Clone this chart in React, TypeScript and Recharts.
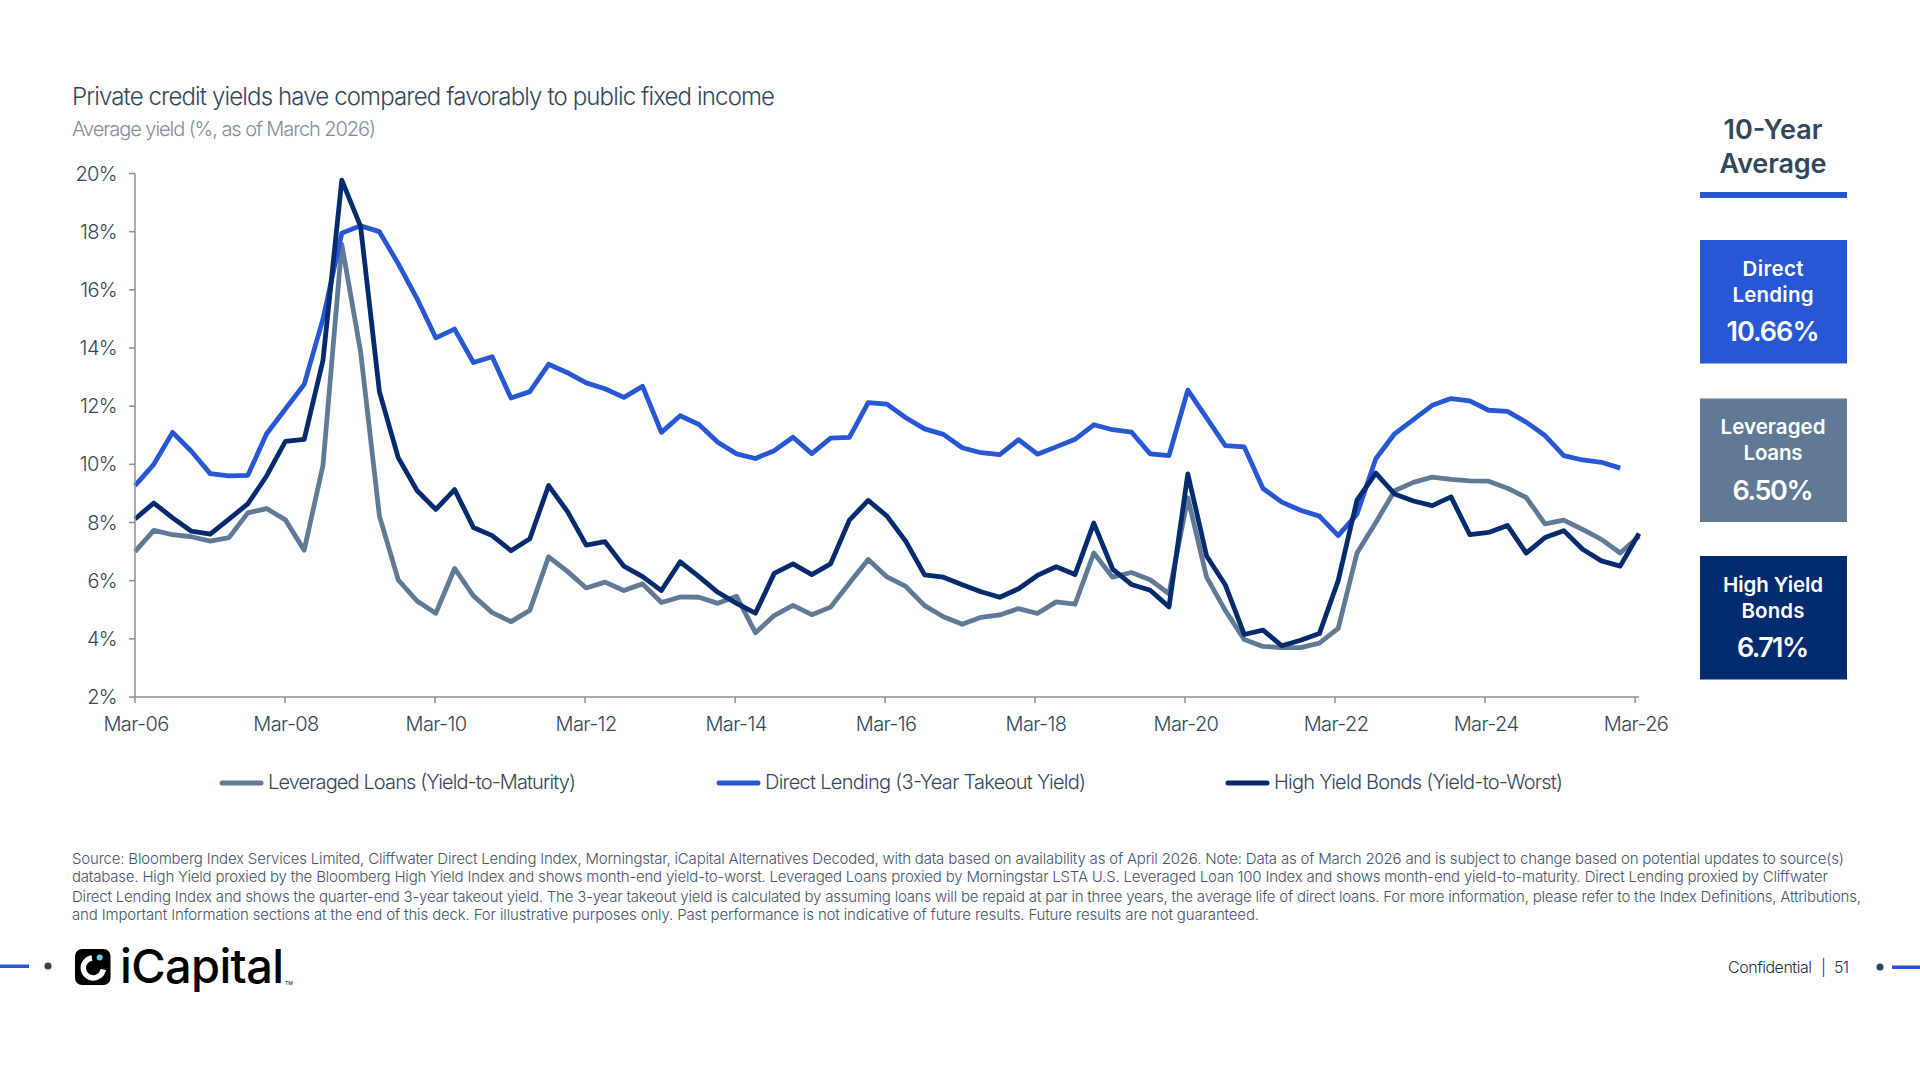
import React from "react";
import { LineChart, Line, XAxis, YAxis, Legend } from "recharts";

const tickYears = ["Mar-06","Mar-08","Mar-10","Mar-12","Mar-14","Mar-16","Mar-18","Mar-20","Mar-22","Mar-24","Mar-26"];
const tickPositions = [0,7.98,15.96,23.94,31.92,39.9,47.87,55.85,63.83,71.81,79.79];
const yTicks = [2,4,6,8,10,12,14,16,18,20];

const directLending = [9.27,10.0,11.1,10.45,9.68,9.6,9.62,11.05,11.9,12.75,15.0,17.95,18.2,18.0,16.9,15.7,14.35,14.65,13.5,13.7,12.28,12.5,13.44,13.15,12.8,12.6,12.3,12.68,11.1,11.67,11.37,10.76,10.36,10.2,10.47,10.93,10.37,10.9,10.93,12.12,12.07,11.6,11.22,11.03,10.57,10.4,10.33,10.85,10.35,10.6,10.86,11.36,11.19,11.11,10.36,10.3,12.55,11.6,10.64,10.6,9.17,8.7,8.42,8.22,7.55,8.29,10.19,11.05,11.54,12.03,12.26,12.18,11.86,11.82,11.45,10.99,10.3,10.15,10.07,9.87,null];
const leveragedLoans = [7.0,7.73,7.58,7.51,7.36,7.48,8.33,8.48,8.09,7.05,9.97,17.56,13.87,8.23,6.03,5.3,4.88,6.42,5.48,4.9,4.59,4.98,6.82,6.32,5.75,5.95,5.66,5.89,5.25,5.44,5.43,5.22,5.46,4.21,4.8,5.15,4.83,5.09,5.92,6.73,6.13,5.8,5.14,4.76,4.5,4.74,4.82,5.04,4.87,5.27,5.19,6.95,6.12,6.28,6.03,5.55,8.85,6.12,4.97,3.98,3.74,3.7,3.7,3.85,4.36,6.95,8.0,9.09,9.38,9.56,9.48,9.43,9.42,9.18,8.86,7.95,8.08,7.76,7.42,6.95,7.53];
const highYield = [8.12,8.67,8.16,7.7,7.6,8.12,8.64,9.6,10.79,10.86,13.58,19.77,18.18,12.5,10.23,9.1,8.45,9.13,7.83,7.55,7.03,7.44,9.27,8.38,7.22,7.34,6.5,6.14,5.66,6.65,6.14,5.6,5.22,4.88,6.25,6.58,6.21,6.58,8.08,8.76,8.22,7.35,6.2,6.12,5.86,5.62,5.43,5.72,6.18,6.48,6.21,7.98,6.4,5.87,5.67,5.1,9.67,6.85,5.85,4.15,4.3,3.76,3.95,4.18,6.0,8.77,9.7,8.98,8.74,8.58,8.88,7.58,7.66,7.9,6.95,7.48,7.72,7.08,6.68,6.5,7.62];

const seriesNames = ["Leveraged Loans (Yield-to-Maturity)","Direct Lending (3-Year Takeout Yield)","High Yield Bonds (Yield-to-Worst)"];
const sourceLines = [
  "Source: Bloomberg Index Services Limited, Cliffwater Direct Lending Index, Morningstar, iCapital Alternatives Decoded, with data based on availability as of April 2026. Note: Data as of March 2026 and is subject to change based on potential updates to source(s)",
  "database. High Yield proxied by the Bloomberg High Yield Index and shows month-end yield-to-worst. Leveraged Loans proxied by Morningstar LSTA U.S. Leveraged Loan 100 Index and shows month-end yield-to-maturity. Direct Lending proxied by Cliffwater",
  "Direct Lending Index and shows the quarter-end 3-year takeout yield. The 3-year takeout yield is calculated by assuming loans will be repaid at par in three years, the average life of direct loans. For more information, please refer to the Index Definitions, Attributions,",
  "and Important Information sections at the end of this deck. For illustrative purposes only. Past performance is not indicative of future results. Future results are not guaranteed.",
];

const BLUE = "#2857D4";
const SLATE = "#607A95";
const NAVY = "#032B6E";
const INK = "#33475A";
const FONT = "Inter, sans-serif";

const rows = directLending.map((_, i) => ({
  i,
  directLending: directLending[i],
  leveragedLoans: leveragedLoans[i],
  highYield: highYield[i],
}));

function T({ x, y, w, size, fill = INK, weight = 300, anchor = "start", children }: any) {
  return (
    <text x={x} y={y} fontFamily={FONT} fontSize={size} fontWeight={weight} fill={fill} textAnchor={anchor}
      textLength={w} lengthAdjust="spacing">{children}</text>
  );
}

function LegendContent() {
  const items = [
    { name: seriesNames[0], color: SLATE, x: 220, tx: 268, w: 308 },
    { name: seriesNames[1], color: BLUE, x: 717, tx: 765, w: 321 },
    { name: seriesNames[2], color: NAVY, x: 1226, tx: 1274, w: 289 },
  ];
  return (
    <svg width={1920} height={30} style={{ display: "block" }}>
      {items.map((it) => (
        <g key={it.name}>
          <line x1={it.x + 2} x2={it.x + 41} y1={16} y2={16} stroke={it.color} strokeWidth={5} strokeLinecap="round" />
          <T x={it.tx} y={22} w={it.w} size={20}>{it.name}</T>
        </g>
      ))}
    </svg>
  );
}

const boxes = [
  { y: 240, color: BLUE, l: [["Direct", 61, 276], ["Lending", 81, 302]], v: ["10.66%", 93, 341] },
  { y: 398.5, color: SLATE, l: [["Leveraged", 105, 434], ["Loans", 59, 460]], v: ["6.50%", 81, 499.5] },
  { y: 556, color: NAVY, l: [["High Yield", 100, 592], ["Bonds", 63, 618]], v: ["6.71%", 72, 657] },
];

export default function App() {
  return (
    <div style={{ position: "absolute", left: 0, top: 0, width: 1920, height: 1080, background: "#fff", overflow: "hidden" }}>
      <LineChart width={1920} height={1080} data={rows} margin={{ top: 173.5, right: 281, bottom: 343, left: 55 }}>
        <XAxis dataKey="i" type="number" domain={[0, 80]} ticks={tickPositions} interval={0} height={40}
          tickFormatter={(_: any, idx: number) => tickYears[idx]}
          stroke="#8A8F96" strokeWidth={1.5} tickSize={6} tickLine={{ stroke: "#8A8F96", strokeWidth: 1.5 }}
          tick={{ fill: INK, fontSize: 20, fontFamily: FONT, fontWeight: 300, dx: 1, dy: 12, letterSpacing: -0.6 }} />
        <YAxis type="number" domain={[2, 20]} ticks={yTicks} interval={0} width={80}
          tickFormatter={(v: number) => `${v}%`}
          stroke="#8A8F96" strokeWidth={1.5} tickSize={6} tickLine={{ stroke: "#8A8F96", strokeWidth: 1.5 }}
          tick={{ fill: INK, fontSize: 20, fontFamily: FONT, fontWeight: 300, dx: -10, letterSpacing: -0.6 }} />
        <Legend layout="horizontal" verticalAlign="middle" align="center" content={<LegendContent />}
          wrapperStyle={{ left: 0, top: 767, width: 1920, height: 30, margin: 0 }} />
        <Line dataKey="leveragedLoans" name={seriesNames[0]} stroke={SLATE} strokeWidth={4.8} dot={false} isAnimationActive={false} strokeLinejoin="round" />
        <Line dataKey="directLending" name={seriesNames[1]} stroke={BLUE} strokeWidth={4.8} dot={false} isAnimationActive={false} strokeLinejoin="round" connectNulls={false} />
        <Line dataKey="highYield" name={seriesNames[2]} stroke={NAVY} strokeWidth={4.8} dot={false} isAnimationActive={false} strokeLinejoin="round" />
      </LineChart>

      <svg width={1920} height={1080} style={{ position: "absolute", left: 0, top: 0, pointerEvents: "none" }}>
        <T x={72} y={104.5} w={703} size={24}>Private credit yields have compared favorably to public fixed income</T>
        <T x={72} y={136} w={304} size={20} fill="#7E8FA0">Average yield (%, as of March 2026)</T>

        <T x={1773} y={139} w={99} size={27} weight={600} anchor="middle">10-Year</T>
        <T x={1773} y={173} w={107} size={27} weight={600} anchor="middle">Average</T>
        <rect x={1700} y={192} width={147} height={6} fill={BLUE} />
        {boxes.map((b) => (
          <g key={b.v[0] as string}>
            <rect x={1700} y={b.y} width={147} height={123.5} fill={b.color} />
            {b.l.map((r) => (
              <T key={r[0] as string} x={1773} y={r[2]} w={r[1]} size={20.5} weight={600} fill="#fff" anchor="middle">{r[0]}</T>
            ))}
            <T x={1773} y={b.v[2]} w={b.v[1]} size={27} weight={600} fill="#fff" anchor="middle">{b.v[0]}</T>
          </g>
        ))}

        {sourceLines.map((s, i) => (
          <T key={i} x={72} y={[863.5, 881.5, 901.5, 919.5][i]} w={[1772, 1756, 1789, 1187][i]} size={15} fill="#44566A">{s}</T>
        ))}

        <rect x={0} y={964.5} width={29} height={3.5} fill={BLUE} />
        <circle cx={48} cy={966} r={3.5} fill="#2F4356" />
        <rect x={75} y={949} width={35.5} height={36} rx={7} fill="#000" />
        <path d="M 92 958 A 10 10 0 1 0 103.2 969.5" fill="none" stroke="#fff" strokeWidth={5.5} />
        <circle cx={99.7} cy={957.5} r={3} fill="#5FD0E0" />
        <T x={120} y={983} w={164} size={47} weight={500} fill="#000">iCapital</T>
        <text x={285} y={985} fontFamily={FONT} fontSize={5} fill="#000">TM</text>

        <T x={1728} y={973} w={84} size={16} fill="#1F2F3F">Confidential</T>
        <T x={1821} y={973} w={3} size={16} fill="#1F2F3F">|</T>
        <T x={1834} y={973} w={15} size={16} fill="#1F2F3F">51</T>
        <circle cx={1880} cy={967} r={3.5} fill="#2F4356" />
        <rect x={1892} y={965.5} width={28} height={3.5} fill={BLUE} />
      </svg>
    </div>
  );
}
